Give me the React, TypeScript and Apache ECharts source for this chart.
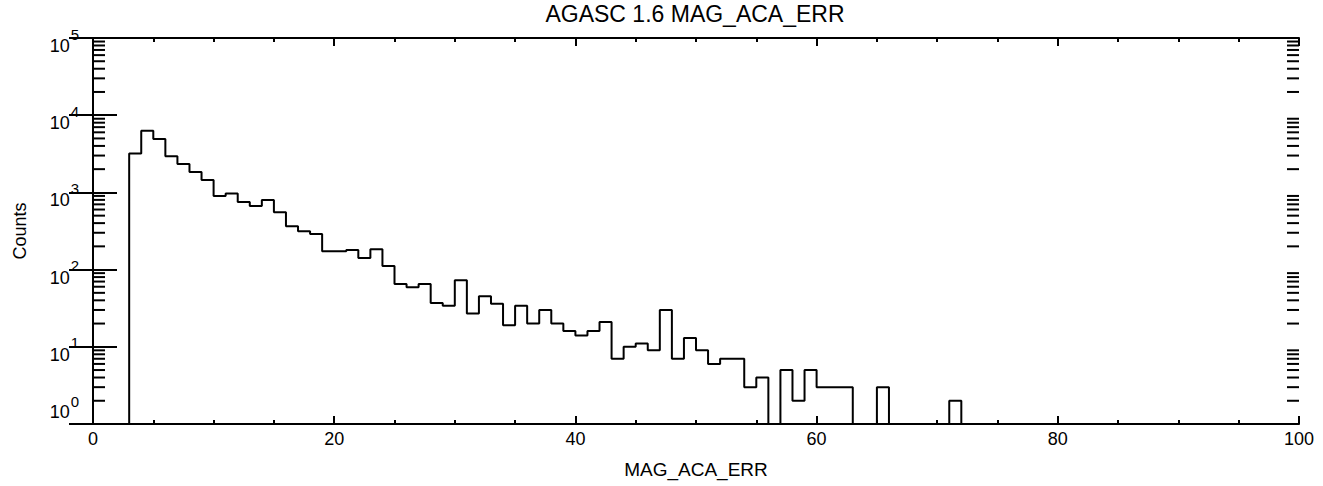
import React, { useEffect, useRef } from "react";
import * as echarts from "echarts";

// Histogram of MAG_ACA_ERR, unit-width bins starting at binStart
const binStart = 3;
const binWidth = 1;
const counts = [
  3200, 6300, 4900, 2950, 2330, 1840, 1450, 900, 970, 750,
  665, 800, 555, 365, 313, 289, 173, 173, 179, 141,
  183, 111, 65, 59, 65, 37, 34, 73, 27, 45,
  36, 19, 34, 20, 30, 20, 16, 14, 16, 21,
  7, 10, 11, 9, 30, 7, 13, 9, 6, 7,
  7, 3, 4, 0, 5, 2, 5, 3, 3, 3,
  0, 0, 3, 0, 0, 0, 0, 0, 2,
];
const xMin = 0;
const xMax = 100;
const yMin = 1;
const yMax = 100000;
const decades = [1, 10, 100, 1000, 10000];
const minorMultipliers = [2, 3, 4, 5, 6, 7, 8, 9];

const FONT = "'Liberation Sans', Arial, sans-serif";

export default function App() {
  const ref = useRef<HTMLDivElement>(null);
  useEffect(() => {
    if (!ref.current) return;
    const chart = echarts.init(ref.current, undefined, { renderer: "svg" });
    const floor = (v: number) => (v > 0 ? v : yMin);
    const pts: number[][] = [[xMin, yMin]];
    counts.forEach((c, i) => pts.push([binStart + i * binWidth, floor(c)]));
    const lastEdge = binStart + counts.length * binWidth;
    pts.push([lastEdge, yMin]);
    pts.push([xMax, yMin]);

    const minorVals: number[][] = [];
    decades.forEach((d) => minorMultipliers.forEach((m) => minorVals.push([xMin, d * m])));

    const axisLine = { show: true, lineStyle: { color: "#000", width: 2 } };
    chart.setOption({
      animation: false,
      backgroundColor: "#fff",
      title: {
        text: "AGASC 1.6 MAG_ACA_ERR",
        left: 695,
        top: 2,
        padding: 0,
        textAlign: "center",
        textStyle: { fontFamily: FONT, fontSize: 23, fontWeight: "normal", color: "#000" },
      },
      grid: { left: 93, right: 24, top: 38, bottom: 62 },
      xAxis: [
        {
          type: "value",
          min: xMin,
          max: xMax,
          interval: 20,
          position: "bottom",
          name: "MAG_ACA_ERR",
          nameLocation: "middle",
          nameGap: 36,
          nameTextStyle: { fontFamily: FONT, fontSize: 19, color: "#000" },
          axisLine,
          axisTick: { show: true, inside: true, length: 8, lineStyle: { color: "#000", width: 2 } },
          minorTick: { show: true, splitNumber: 4, length: 4, lineStyle: { color: "#000", width: 2 } },
          axisLabel: { fontFamily: FONT, fontSize: 18, color: "#000", margin: 6 },
          splitLine: { show: false },
        },
        {
          type: "value",
          min: xMin,
          max: xMax,
          interval: 20,
          position: "top",
          axisLine,
          axisTick: { show: true, inside: true, length: 8, lineStyle: { color: "#000", width: 2 } },
          minorTick: { show: true, splitNumber: 4, length: 4, lineStyle: { color: "#000", width: 2 } },
          axisLabel: { show: false },
          splitLine: { show: false },
        },
      ],
      yAxis: [
        {
          type: "log",
          logBase: 10,
          min: yMin,
          max: yMax,
          position: "left",
          name: "Counts",
          nameLocation: "middle",
          nameRotate: 90,
          nameGap: 64,
          nameTextStyle: { fontFamily: FONT, fontSize: 18, color: "#000" },
          axisLine,
          axisTick: { show: true, inside: true, length: 24, lineStyle: { color: "#000", width: 2 } },
          axisLabel: {
            margin: 14,
            formatter: (v: number) => {
              const e = Math.round(Math.log10(v));
              return e === 0 ? `{b0|10}{s0|${e}}` : `{b|10}{s|${e}}`;
            },
            rich: {
              b: { fontFamily: FONT, fontSize: 18, color: "#000", padding: [16, 0, 0, 0] },
              s: { fontFamily: FONT, fontSize: 15, color: "#000", padding: [0, 0, 8, 1] },
              b0: { fontFamily: FONT, fontSize: 18, color: "#000", padding: [0, 0, 24, 0] },
              s0: { fontFamily: FONT, fontSize: 15, color: "#000", padding: [0, 0, 46, 1] },
            },
          },
          splitLine: { show: false },
        },
        {
          type: "log",
          logBase: 10,
          min: yMin,
          max: yMax,
          position: "right",
          axisLine,
          axisTick: { show: true, inside: true, length: 24, lineStyle: { color: "#000", width: 2 } },
          axisLabel: { show: false },
          splitLine: { show: false },
        },
      ],
      series: [
        {
          type: "line",
          step: "end",
          data: pts,
          showSymbol: false,
          symbol: "none",
          lineStyle: { color: "#000", width: 2 },
          clip: false,
          z: 3,
        },
        {
          type: "custom",
          data: minorVals,
          clip: false,
          silent: true,
          renderItem: (params: any, api: any) => {
            const v = api.value(1);
            const pl = api.coord([xMin, v]);
            const pr = api.coord([xMax, v]);
            const st = { stroke: "#000", lineWidth: 2 };
            return {
              type: "group",
              children: [
                { type: "line", shape: { x1: pl[0], y1: pl[1], x2: pl[0] + 12, y2: pl[1] }, style: st },
                { type: "line", shape: { x1: pr[0] - 12, y1: pr[1], x2: pr[0], y2: pr[1] }, style: st },
              ],
            };
          },
        },
      ],
    });
    return () => chart.dispose();
  }, []);
  return (
    <div
      ref={ref}
      style={{ position: "fixed", left: 0, top: 0, width: 1323, height: 486, background: "#fff" }}
    />
  );
}
